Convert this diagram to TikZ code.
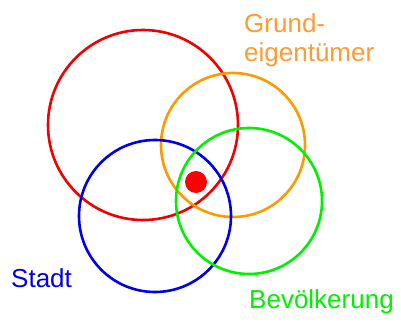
\documentclass[tikz,border=0pt]{standalone}
\usepackage{fontspec}
\setmainfont{Liberation Sans}
\definecolor{cred}{RGB}{240,0,0}
\definecolor{corange}{RGB}{255,153,0}
\definecolor{corangetxt}{RGB}{255,155,50}
\definecolor{cblue}{RGB}{0,0,230}
\definecolor{cgreen}{RGB}{0,240,0}
\begin{document}
\begin{tikzpicture}[x=1pt,y=-1pt,
  ring/.style={circle, draw, line width=2.6pt, inner sep=0pt},
  lbl/.style={anchor=base west, inner sep=0pt, font=\fontsize{26}{29}\selectfont}]
\useasboundingbox (0,0) rectangle (401,323);
\node[ring, cred, minimum size=190pt] (r) at (143,125) {};
\node[ring, corange, minimum size=144pt] (o) at (233,145) {};
\node[ring, cblue, minimum size=152pt] (b) at (155,216) {};
\node[ring, cgreen, minimum size=146pt] (g) at (249,201) {};
\node[circle, fill=red, inner sep=0pt, minimum size=22pt] (dot) at (196,182) {};
\node[lbl, text=corangetxt] (t1) at (244,33) {Grund-};
\node[lbl, text=corangetxt] (t2) at (244,62) {eigentümer};
\node[lbl, text=cblue] (t3) at (11,287) {Stadt};
\node[lbl, text=cgreen] (t4) at (249,308) {Bevölkerung};
\end{tikzpicture}
\end{document}
